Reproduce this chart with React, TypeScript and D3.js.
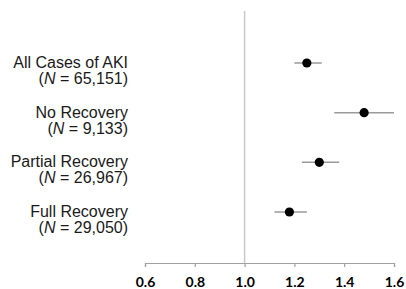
import React, { useEffect, useRef } from 'react';
import * as d3 from 'd3';

const groups = ['All Cases of AKI', 'No Recovery', 'Partial Recovery', 'Full Recovery'];
const counts = ['65,151', '9,133', '26,967', '29,050'];
const estimates = [1.25, 1.48, 1.30, 1.18];
const lower = [1.20, 1.36, 1.23, 1.12];
const upper = [1.31, 1.60, 1.38, 1.25];
const ticks = [0.6, 0.8, 1.0, 1.2, 1.4, 1.6];

const W = 406, H = 289;

export default function App() {
  const ref = useRef<SVGSVGElement>(null);

  useEffect(() => {
    const svg = d3.select(ref.current);
    svg.selectAll('*').remove();

    const x = d3.scaleLinear().domain([0.6, 1.6]).range([145, 394]);
    const y = d3.scalePoint<number>().domain(groups.map((_, i) => i)).range([63, 212]);
    const axisY = 263;

    // reference line at 1.0
    svg.append('line')
      .attr('x1', x(1)).attr('x2', x(1))
      .attr('y1', 11).attr('y2', axisY)
      .attr('stroke', '#c8c8c8').attr('stroke-width', 1.5);

    // axis
    const axis = svg.append('g').attr('transform', `translate(0,${axisY})`)
      .call(d3.axisBottom(x).tickValues(ticks).tickSize(4).tickSizeOuter(4).tickFormat(d3.format('.1f')));
    axis.select('.domain').attr('stroke', '#a0a0a0').attr('stroke-width', 1.2);
    axis.selectAll('.tick line').attr('stroke', '#a0a0a0').attr('stroke-width', 1.2);
    axis.selectAll('.tick text')
      .attr('y', 24)
      .attr('dy', 0)
      .attr('fill', '#000')
      .style('font-family', 'Lato, sans-serif')
      .style('font-weight', 'bold')
      .style('font-size', '14px');

    const rows = svg.append('g').selectAll('g').data(groups).join('g');

    rows.append('line')
      .attr('x1', (_, i) => x(lower[i])).attr('x2', (_, i) => x(upper[i]))
      .attr('y1', (_, i) => y(i)!).attr('y2', (_, i) => y(i)!)
      .attr('stroke', '#9a9a9a').attr('stroke-width', 1.5);

    rows.append('circle')
      .attr('cx', (_, i) => x(estimates[i])).attr('cy', (_, i) => y(i)!)
      .attr('r', 4.6).attr('fill', '#000');

    const label = rows.append('text')
      .attr('text-anchor', 'end')
      .attr('fill', '#1a1a1a')
      .style('font-family', '"Liberation Sans", Arial, sans-serif')
      .style('font-size', '16px');

    label.append('tspan')
      .attr('x', 128).attr('y', (_, i) => y(i)! + 5)
      .text(d => d);

    const second = label.append('tspan')
      .attr('x', 128).attr('y', (_, i) => y(i)! + 21);
    second.append('tspan').text('(');
    second.append('tspan').style('font-style', 'italic').text('N');
    second.append('tspan').text((_, i) => ` = ${counts[i]})`);
  }, []);

  return (
    <svg ref={ref} width={W} height={H}
      style={{ position: 'absolute', left: 0, top: 0, background: '#fff' }} />
  );
}
